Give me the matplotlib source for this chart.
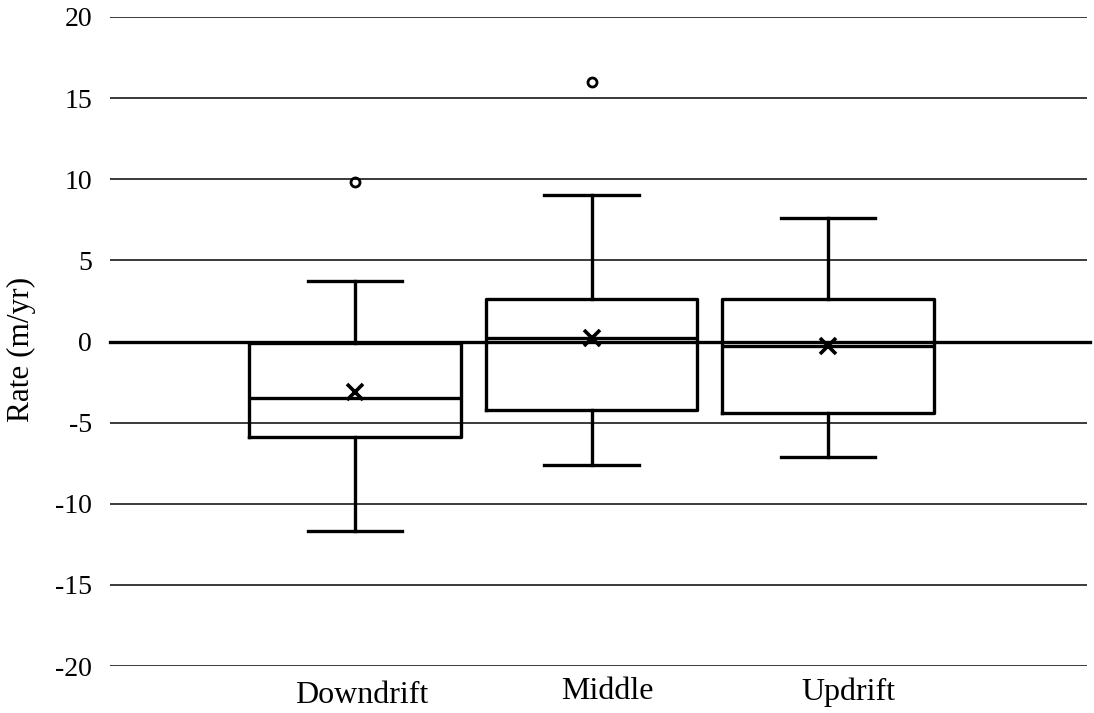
import matplotlib
matplotlib.use("Agg")
import matplotlib.pyplot as plt
from matplotlib.transforms import ScaledTranslation

categories = ["Downdrift", "Middle", "Updrift"]
whisker_low = [-11.7, -7.6, -7.1]
q1 = [-5.9, -4.2, -4.4]
median = [-3.5, 0.2, -0.3]
q3 = [-0.1, 2.6, 2.6]
whisker_high = [3.7, 9.0, 7.6]
mean = [-3.1, 0.2, -0.3]
outliers = [[9.8], [16.0], []]
yticks = [-20, -15, -10, -5, 0, 5, 10, 15, 20]

plt.rcParams['font.family'] = ['Liberation Serif', 'DejaVu Serif']

fig = plt.figure(figsize=(10.94, 7.13), dpi=100)
ax = fig.add_axes([110/1094, 1-666/713, (1087-110)/1094, (666-17)/713])

stats = []
for i, c in enumerate(categories):
    stats.append(dict(label=c, whislo=whisker_low[i], q1=q1[i], med=median[i],
                      q3=q3[i], whishi=whisker_high[i], mean=mean[i], fliers=outliers[i]))

positions = [1, 2, 3]
lw = 2.4
ax.bxp(stats, positions=positions, widths=0.895, showmeans=True, meanline=False,
       boxprops=dict(color='black', linewidth=lw),
       medianprops=dict(color='black', linewidth=lw),
       whiskerprops=dict(color='black', linewidth=lw),
       capprops=dict(color='black', linewidth=lw),
       capwidths=0.4,
       meanprops=dict(marker='x', markeredgecolor='black', markersize=11, markeredgewidth=2.6),
       flierprops=dict(marker='o', markerfacecolor='none', markeredgecolor='black',
                       markersize=6.5, markeredgewidth=2.0),
       zorder=3)

for t in yticks:
    if t == 0:
        ax.axhline(t, color='black', linewidth=2.4, zorder=4, xmin=0, xmax=1.003, clip_on=False)
    else:
        ax.axhline(t, color='#3a3a3a', linewidth=1.4, zorder=1)

ax.set_ylim(-20, 20)
ax.set_xlim(1 - (355-110)/236.5, 3 + (1087-828)/236.5)
ax.set_yticks(yticks)
ax.set_yticklabels([str(t) for t in yticks])
ax.set_xticks(positions)
ax.set_xticklabels(categories)
for s in ax.spines.values():
    s.set_visible(False)
ax.tick_params(axis='both', length=0)
ax.tick_params(axis='y', pad=13, labelsize=20)
ax.tick_params(axis='x', pad=8, labelsize=23)
ax.set_ylabel("Rate (m/yr)", fontsize=22.5, labelpad=12)
ax.yaxis.set_label_coords(-0.076, 0.487)

offsets = [(7, -4), (16, 0), (20, 0)]
for lbl, (dx, dy) in zip(ax.get_xticklabels(), offsets):
    lbl.set_transform(lbl.get_transform() + ScaledTranslation(dx/100, dy/100, fig.dpi_scale_trans))

fig.savefig("out.png", dpi=100, facecolor='white')
